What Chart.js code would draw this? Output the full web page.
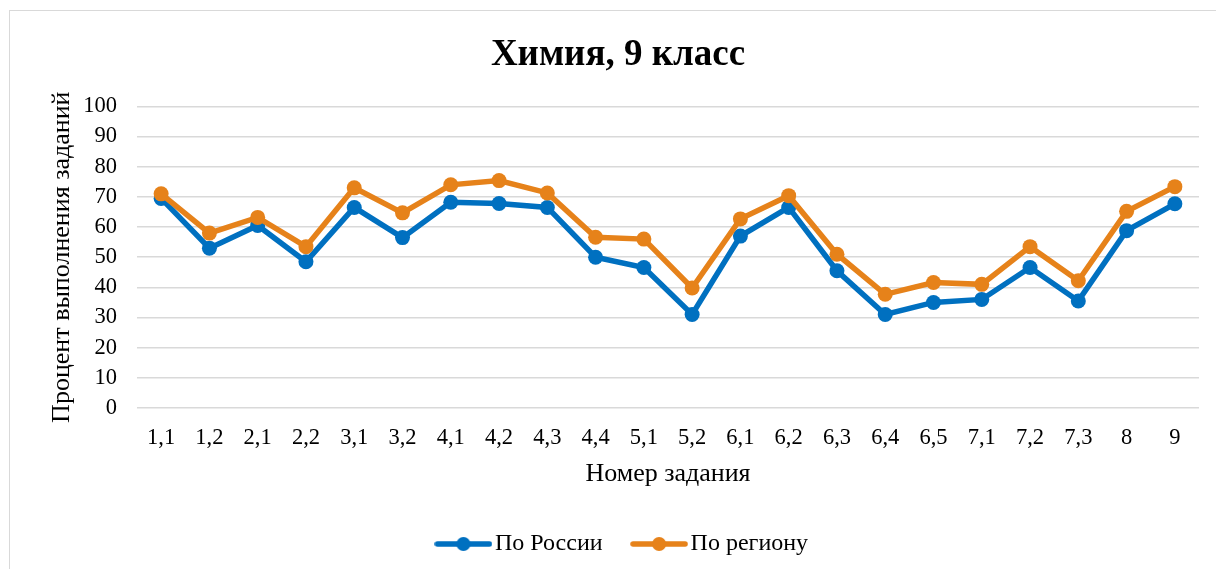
<!DOCTYPE html>
<html>
<head>
<meta charset="utf-8">
<script src="https://cdn.jsdelivr.net/npm/chart.js@4.4.1/dist/chart.umd.min.js"></script>
<style>
    html, body { margin: 0; padding: 0; background: #fff; overflow: hidden; }
    #box {
        position: absolute; left: 9px; top: 10px;
        width: 1218px; height: 570px;
        border: 1.5px solid #d9d9d9; background: #fff;
    }
    #myChart { display: block; }
</style>
</head>
<body>
<div id="box"><canvas id="myChart" width="1218" height="570"></canvas></div>
<script>
const categories = ['1,1', '1,2', '2,1', '2,2', '3,1', '3,2', '4,1', '4,2', '4,3', '4,4', '5,1',
    '5,2', '6,1', '6,2', '6,3', '6,4', '6,5', '7,1', '7,2', '7,3', '8', '9'];
const russia = [69.5, 53, 60.5, 48.5, 66.5, 56.5, 68.2, 67.8, 66.5, 50, 46.6,
    31, 57, 66.5, 45.5, 31, 35, 36, 46.6, 35.5, 58.8, 67.7];
const region = [71, 58, 63.2, 53.5, 73, 64.7, 74, 75.4, 71.3, 56.6, 56,
    39.8, 62.7, 70.4, 51, 37.7, 41.6, 41, 53.5, 42.2, 65.2, 73.4];
const yTicks = [0, 10, 20, 30, 40, 50, 60, 70, 80, 90, 100];

const BLUE = '#0070C0';
const ORANGE = '#E6821A';
const FONT = "'Liberation Serif', 'Times New Roman', serif";

// small legend icon: line with a dot in the middle
function legendIcon(color) {
    const c = document.createElement('canvas');
    c.width = 58;
    c.height = 18;
    const ctx = c.getContext('2d');
    ctx.strokeStyle = color;
    ctx.lineWidth = 5.5;
    ctx.lineCap = 'round';
    ctx.beginPath();
    ctx.moveTo(3, 9);
    ctx.lineTo(55, 9);
    ctx.stroke();
    ctx.fillStyle = color;
    ctx.beginPath();
    ctx.arc(29, 9, 7, 0, Math.PI * 2);
    ctx.fill();
    return c;
}

// nudge the legend a bit to the right, like in the original
const legendShift = {
    id: 'legendShift',
    afterLayout(chart) {
        chart.legend.left += 8;
        chart.legend.right += 8;
    }
};

new Chart(document.getElementById('myChart'), {
    type: 'line',
    data: {
        labels: categories,
        datasets: [{
            label: 'По России',
            data: russia,
            borderColor: BLUE,
            backgroundColor: BLUE,
            borderWidth: 5.5,
            pointRadius: 7.5,
            pointHoverRadius: 7.5,
            pointBorderWidth: 0,
            pointStyle: 'circle',
            tension: 0,
            order: 1
        }, {
            label: 'По региону',
            data: region,
            borderColor: ORANGE,
            backgroundColor: ORANGE,
            borderWidth: 5.5,
            pointRadius: 7.5,
            pointHoverRadius: 7.5,
            pointBorderWidth: 0,
            pointStyle: 'circle',
            tension: 0,
            order: 0
        }]
    },
    plugins: [legendShift],
    options: {
        responsive: false,
        animation: false,
        layout: {
            padding: { left: 27, right: 29, top: 22, bottom: 15 }
        },
        plugins: {
            title: {
                display: true,
                text: 'Химия, 9 класс',
                color: '#000',
                font: { family: FONT, size: 37, weight: 'bold' },
                padding: { top: 0, bottom: 29 }
            },
            legend: {
                position: 'bottom',
                labels: {
                    color: '#000',
                    font: { family: FONT, size: 24 },
                    usePointStyle: true,
                    pointStyleWidth: 39,
                    boxHeight: 18,
                    padding: 37,
                    sort: (a, b) => a.datasetIndex - b.datasetIndex,
                    generateLabels: function (chart) {
                        return chart.data.datasets.map((ds, i) => ({
                            text: ds.label,
                            fillStyle: ds.borderColor,
                            strokeStyle: ds.borderColor,
                            lineWidth: 0,
                            pointStyle: legendIcon(ds.borderColor),
                            fontColor: '#000',
                            datasetIndex: i,
                            hidden: false
                        }));
                    }
                }
            },
            tooltip: { enabled: false }
        },
        scales: {
            x: {
                offset: true,
                grid: { display: false, drawTicks: false },
                border: { display: false },
                ticks: {
                    color: '#000',
                    font: { family: FONT, size: 22.5 },
                    padding: 17,
                    maxRotation: 0,
                    autoSkip: false
                },
                title: {
                    display: true,
                    text: 'Номер задания',
                    color: '#000',
                    font: { family: FONT, size: 26 },
                    padding: { top: 0, bottom: 5 }
                },
                afterFit: function (scale) { scale.height = 87; }
            },
            y: {
                min: 0,
                max: 100,
                afterBuildTicks: function (scale) {
                    scale.ticks = yTicks.map(v => ({ value: v }));
                },
                grid: { color: '#d9d9d9', lineWidth: 1.5, drawTicks: false },
                border: { display: false },
                ticks: {
                    color: '#000',
                    font: { family: FONT, size: 22.5 },
                    padding: 20,
                    autoSkip: false
                },
                title: {
                    display: true,
                    text: 'Процент выполнения заданий',
                    color: '#000',
                    font: { family: FONT, size: 26 },
                    padding: { top: 10, bottom: 0 }
                },
                afterFit: function (scale) { scale.width = 100; }
            }
        }
    }
});
</script>
</body>
</html>
